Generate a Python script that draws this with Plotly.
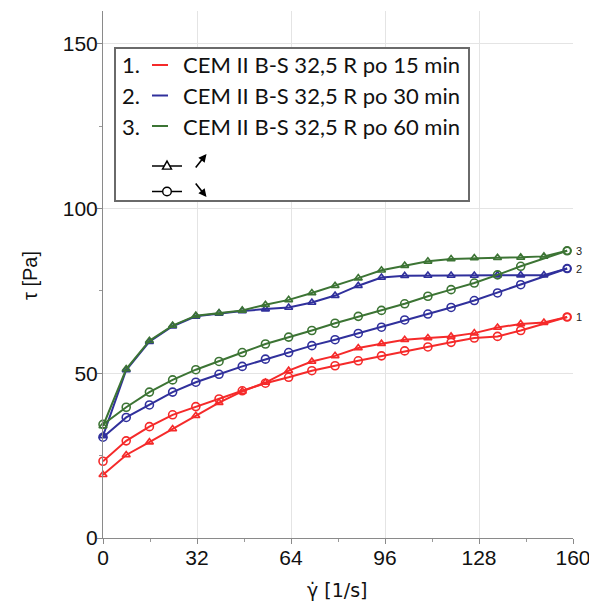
import plotly.graph_objects as go

# ---------------- data ----------------
step = 7.9
k_up = list(range(0, 21))                 # ascending: 0..19 + top point 20
k_down = [20] + list(range(18, -1, -1))   # descending: 20, 18..0
x_up = [round(step * k, 2) for k in k_up]
x_down = [round(step * k, 2) for k in k_down]

red_up = [19.2, 25.2, 29.1, 33.1, 37.1, 41.1, 44.5, 47.2, 50.8, 53.6, 55.3,
          57.7, 59.0, 60.2, 60.7, 61.2, 62.2, 63.9, 65.0, 65.4, 67.1]
blue_up = [31.0, 51.0, 59.6, 64.3, 67.3, 68.2, 68.9, 69.5, 70.0, 71.5, 73.6,
           76.6, 79.1, 79.6, 79.7, 79.7, 79.7, 79.8, 79.8, 79.8, 81.8]
green_up = [34.0, 51.3, 59.9, 64.5, 67.5, 68.3, 69.1, 70.8, 72.3, 74.4, 76.6,
            78.9, 81.3, 82.7, 84.0, 84.7, 85.0, 85.1, 85.2, 85.5, 87.2]

red_down = [67.1, 63.0, 61.2, 60.7, 59.4, 58.0, 56.8, 55.3, 53.8, 52.3, 50.8,
            48.8, 47.0, 44.7, 42.2, 39.9, 37.4, 33.8, 29.5, 23.3]
blue_down = [81.8, 76.9, 74.4, 72.1, 70.0, 68.0, 66.2, 64.0, 62.1, 60.2, 58.4,
             56.3, 54.3, 52.1, 49.7, 47.3, 44.3, 40.4, 36.6, 30.6]
green_down = [87.2, 82.5, 79.9, 77.4, 75.4, 73.4, 71.1, 69.1, 67.3, 65.2, 63.0,
              61.0, 58.9, 56.3, 53.6, 51.1, 48.0, 44.3, 39.7, 34.5]

series_names = ["CEM II B-S 32,5 R po 15 min",
                "CEM II B-S 32,5 R po 30 min",
                "CEM II B-S 32,5 R po 60 min"]
series_labels = ["1", "2", "3"]
colors = ["#f52a2a", "#30309c", "#3c7434"]

x_ticks = [0, 32, 64, 96, 128, 160]
y_ticks = [0, 50, 100, 150]

# ---------------- figure ----------------
OFF = 8                      # default page body margin
W, H = 597 - OFF, 611 - OFF
L, R, T, B = 95, 24, 3, 73
pw, ph = W - L - R, H - T - B


def px(xs):  # screen pixel -> paper
    return (xs - OFF - L) / pw


def py(ys):
    return (H - B - (ys - OFF)) / ph


fig = go.Figure()
ups = [red_up, blue_up, green_up]
downs = [red_down, blue_down, green_down]
for i in range(3):
    col = colors[i]
    syms_up = ["triangle-up-open"] * (len(x_up) - 1) + ["circle-open"]
    fig.add_trace(go.Scatter(
        x=x_up, y=ups[i], mode="lines+markers",
        line=dict(color=col, width=2),
        marker=dict(symbol=syms_up, size=7, color=col, line=dict(width=1.6, color=col)),
        showlegend=False, hoverinfo="skip", cliponaxis=False))
    fig.add_trace(go.Scatter(
        x=x_down, y=downs[i], mode="lines+markers",
        line=dict(color=col, width=2),
        marker=dict(symbol="circle-open", size=8, color=col, line=dict(width=1.6, color=col)),
        showlegend=False, hoverinfo="skip", cliponaxis=False))
    # end labels 1 / 2 / 3
    fig.add_annotation(x=x_down[0], y=downs[i][0], text=series_labels[i],
                       showarrow=False, xanchor="left", yanchor="middle", xshift=7,
                       font=dict(family="Liberation Sans", size=11, color="#222"))

shapes = []
annots = []
# legend box
shapes.append(dict(type="rect", xref="paper", yref="paper",
                   x0=px(115), x1=px(469), y0=py(201), y1=py(48),
                   line=dict(color="#6a6a6a", width=2), fillcolor="white", layer="above"))
leg_font = dict(family="Lato", size=22, color="#111")
row_y = [65, 95.5, 126]
for i in range(3):
    annots.append(dict(xref="paper", yref="paper", x=px(120), y=py(row_y[i]),
                       text=series_labels[i] + ".", showarrow=False,
                       xanchor="left", yanchor="middle", font=leg_font))
    shapes.append(dict(type="line", xref="paper", yref="paper",
                       x0=px(152), x1=px(168), y0=py(row_y[i]), y1=py(row_y[i]),
                       line=dict(color=colors[i], width=2), layer="above"))
    annots.append(dict(xref="paper", yref="paper", x=px(181), y=py(row_y[i]),
                       text=series_names[i], showarrow=False,
                       xanchor="left", yanchor="middle", font=leg_font))
# symbol rows
for yrow in (166, 191.5):
    shapes.append(dict(type="line", xref="paper", yref="paper",
                       x0=px(152), x1=px(182), y0=py(yrow), y1=py(yrow),
                       line=dict(color="black", width=1.5), layer="above"))
# triangle glyph
tx, ty, ts = 167, 166, 4.5
path = "M {} {} L {} {} L {} {} Z".format(
    px(tx - ts), py(ty + ts * 0.7), px(tx + ts), py(ty + ts * 0.7), px(tx), py(ty - ts * 1.1))
shapes.append(dict(type="path", xref="paper", yref="paper", path=path,
                   line=dict(color="black", width=1.4), fillcolor="white", layer="above"))
# circle glyph
cx, cy, r = 167, 191.5, 4.3
shapes.append(dict(type="circle", xref="paper", yref="paper",
                   x0=px(cx - r), x1=px(cx + r), y0=py(cy + r), y1=py(cy - r),
                   line=dict(color="black", width=1.4), fillcolor="white", layer="above"))
# arrows
annots.append(dict(xref="paper", yref="paper", x=px(206.5), y=py(154), ax=-12, ay=15,
                   text="", showarrow=True, arrowhead=2, arrowsize=1, arrowwidth=1.6,
                   arrowcolor="black"))
annots.append(dict(xref="paper", yref="paper", x=px(206.5), y=py(197), ax=-12, ay=-15,
                   text="", showarrow=True, arrowhead=2, arrowsize=1, arrowwidth=1.6,
                   arrowcolor="black"))
# axis titles
annots.append(dict(xref="paper", yref="paper", x=px(30), y=py(276), text="τ [Pa]",
                   textangle=-90, showarrow=False, xanchor="center", yanchor="middle",
                   font=dict(family="Liberation Sans", size=20, color="#111")))
annots.append(dict(xref="paper", yref="paper", x=px(337), y=py(590), text="γ̇ [1/s]",
                   showarrow=False, xanchor="center", yanchor="middle",
                   font=dict(family="DejaVu Sans", size=19, color="#111")))

for a in annots:
    fig.add_annotation(**a)

tick_font = dict(family="Liberation Sans", size=21, color="#111")
fig.update_layout(
    width=W, height=H, margin=dict(l=L, r=R, t=T, b=B, autoexpand=False),
    paper_bgcolor="white", plot_bgcolor="white",
    shapes=shapes,
    xaxis=dict(range=[0, 160], tickvals=x_ticks, ticktext=[str(v) for v in x_ticks],
               showgrid=True, gridcolor="#e4e4e4", gridwidth=1,
               showline=True, linecolor="#8a8a8a", linewidth=1,
               ticks="outside", ticklen=5, tickcolor="#8a8a8a", ticklabelstandoff=-4,
               minor=dict(dtick=16, ticks="outside", ticklen=3, tickcolor="#9a9a9a", showgrid=False),
               tickfont=tick_font, zeroline=False, fixedrange=True, automargin=False),
    yaxis=dict(range=[0, 160], tickvals=y_ticks, ticktext=[str(v) for v in y_ticks],
               showgrid=True, gridcolor="#e4e4e4", gridwidth=1,
               showline=True, linecolor="#8a8a8a", linewidth=1,
               ticks="outside", ticklen=5, tickcolor="#8a8a8a", ticklabelstandoff=-5,
               minor=dict(dtick=25, ticks="outside", ticklen=3, tickcolor="#9a9a9a", showgrid=False),
               tickfont=tick_font, zeroline=False, fixedrange=True, automargin=False),
    showlegend=False,
)

fig.write_html("out.html")
